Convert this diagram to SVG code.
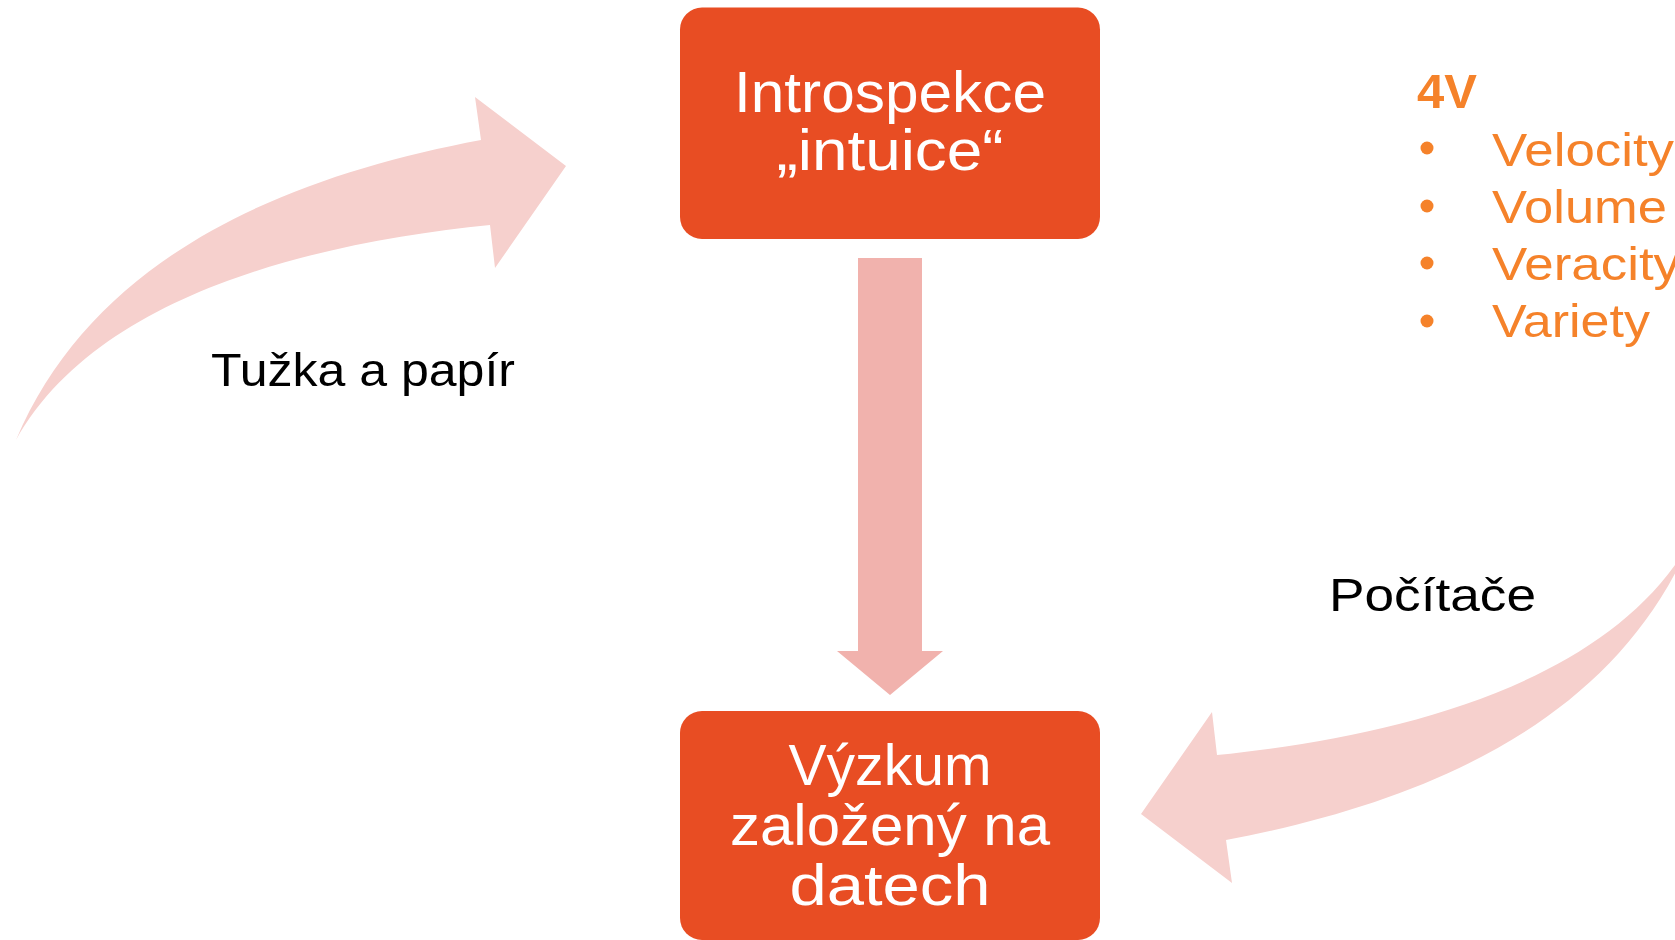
<svg xmlns="http://www.w3.org/2000/svg" width="1675" height="940" viewBox="0 0 1675 940">
<style>
.box{fill:#E84D23}
.bt{font-family:"Liberation Sans",Arial,sans-serif;font-size:57px;fill:#FFFFFF;text-anchor:middle}
.lbl{font-family:"Liberation Sans",Arial,sans-serif;font-size:47px;fill:#000000}
.li{font-family:"Liberation Sans",Arial,sans-serif;font-size:47px;fill:#F5822A}
.hd{font-family:"Liberation Sans",Arial,sans-serif;font-size:49px;font-weight:bold;fill:#F5822A}
.curve{fill:#F6D0CD}
.down{fill:#F1B2AD}
</style>
<defs>
<path id="carrow" d="M16,440 C94,256 285,177 481,140 L475,97 L566,166 L495,268 L490,225 C321,242 99,292 16,440 Z"/>
</defs>
<rect width="1675" height="940" fill="#FFFFFF"/>
<g id="connectors">
<use href="#carrow" class="curve"/>
<use href="#carrow" class="curve" transform="rotate(180 853.5 490)"/>
<path class="down" d="M858,258 L922,258 L922,651 L943,651 L890,695 L837,651 L858,651 Z"/>
</g>
<g id="node-introspekce">
<rect class="box" x="680" y="7.5" width="420" height="231.5" rx="22" ry="22"/>
<text class="bt" x="890" y="112" textLength="312" lengthAdjust="spacingAndGlyphs">Introspekce</text>
<text class="bt" x="890" y="170" textLength="227" lengthAdjust="spacingAndGlyphs">„intuice“</text>
</g>
<g id="node-vyzkum">
<rect class="box" x="680" y="711" width="420" height="229" rx="22" ry="22"/>
<text class="bt" x="890" y="785" textLength="203" lengthAdjust="spacingAndGlyphs">Výzkum</text>
<text class="bt" x="890" y="845" textLength="320" lengthAdjust="spacingAndGlyphs">založený na</text>
<text class="bt" x="890" y="905" textLength="201" lengthAdjust="spacingAndGlyphs">datech</text>
</g>
<g id="label-tuzka">
<text class="lbl" x="211" y="386" textLength="304" lengthAdjust="spacingAndGlyphs">Tužka a papír</text>
</g>
<g id="label-pocitace">
<text class="lbl" x="1329" y="611" textLength="207" lengthAdjust="spacingAndGlyphs">Počítače</text>
</g>
<g id="list-4v">
<text class="hd" x="1417" y="108">4V</text>
<circle cx="1427" cy="148" r="6.5" fill="#F5822A"/>
<circle cx="1427" cy="206" r="6.5" fill="#F5822A"/>
<circle cx="1427" cy="263" r="6.5" fill="#F5822A"/>
<circle cx="1427" cy="321" r="6.5" fill="#F5822A"/>
<text class="li" x="1492" y="166" textLength="182" lengthAdjust="spacingAndGlyphs">Velocity</text>
<text class="li" x="1492" y="223" textLength="175" lengthAdjust="spacingAndGlyphs">Volume</text>
<text class="li" x="1492" y="280" textLength="188" lengthAdjust="spacingAndGlyphs">Veracity</text>
<text class="li" x="1492" y="337" textLength="158" lengthAdjust="spacingAndGlyphs">Variety</text>
</g>
</svg>
